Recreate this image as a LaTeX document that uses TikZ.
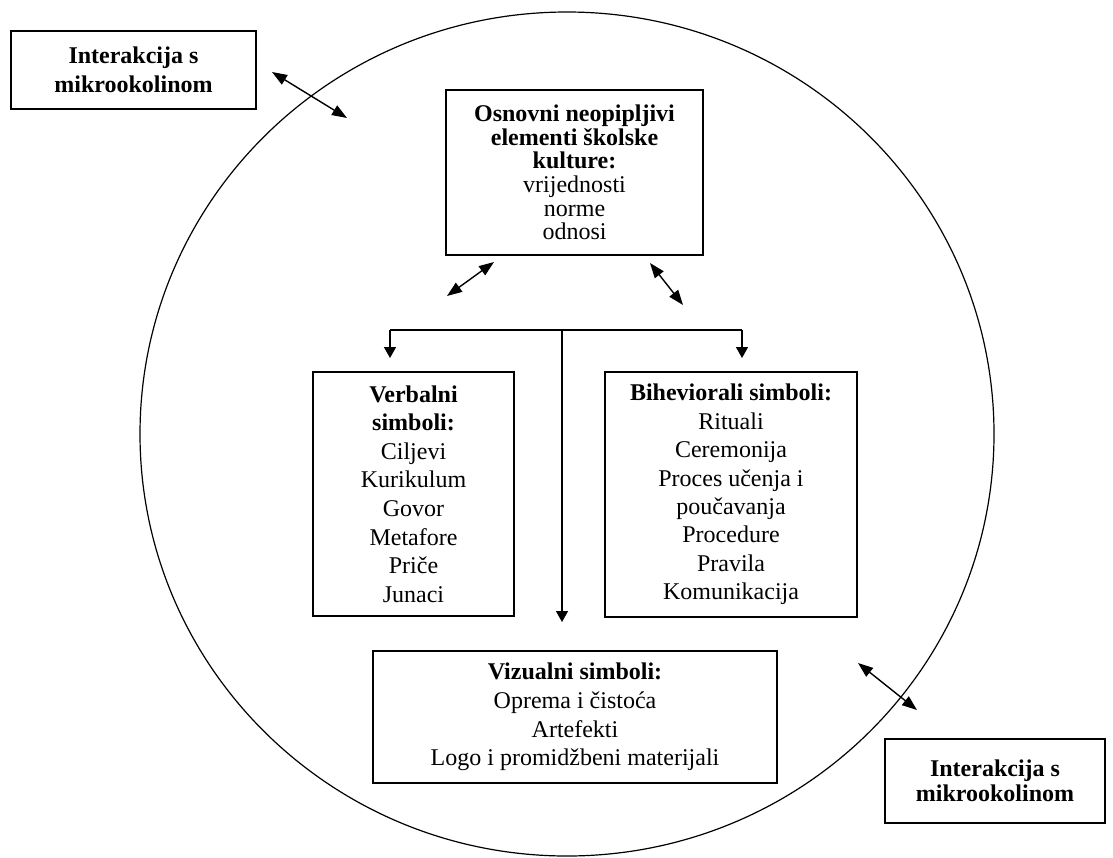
\documentclass[tikz,border=0pt]{standalone}
\usepackage{fontspec}
\setmainfont{Liberation Serif}
\usetikzlibrary{arrows.meta}
\begin{document}
\begin{tikzpicture}[x=0.5pt,y=-0.5pt,
  box/.style={draw, line width=0.75pt, inner sep=0pt, align=center},
  txt/.style={font=\fontsize{12}{#1}\selectfont},
  dbl/.style={{Triangle[length=7.5pt,width=5.5pt]}-{Triangle[length=7.5pt,width=5.5pt]}, line width=0.7pt},
  down/.style={-{Triangle[length=5.5pt,width=6pt]}, line width=0.7pt}]
\useasboundingbox (0,0) rectangle (1113,857);
\draw[line width=0.6pt] (567,434) ellipse [x radius=427, y radius=422];

\node[box, txt=14.5pt, minimum width=122.5pt, minimum height=39pt] (tl) at (133.5,70)
  {\textbf{Interakcija s}\\\textbf{mikrookolinom}};
\node[box, txt=12.5pt, minimum width=110pt, minimum height=42pt] (br) at (995,781)
  {\textbf{Interakcija s}\\\textbf{mikrookolinom}};
\node[box, txt=11.8pt, minimum width=128.5pt, minimum height=82.5pt] (top) at (574.5,172.5)
  {\textbf{Osnovni neopipljivi}\\\textbf{elementi školske}\\\textbf{kulture:}\\vrijednosti\\norme\\odnosi};
\node[box, txt=14.3pt, minimum width=100.5pt, minimum height=122pt] (verb) at (413.5,494)
  {\textbf{Verbalni}\\\textbf{simboli:}\\Ciljevi\\Kurikulum\\Govor\\Metafore\\Priče\\Junaci};
\node[box, txt=14.2pt, minimum width=126pt, minimum height=122.5pt] (beh) at (731,494.5)
  {\textbf{Biheviorali simboli:}\\Rituali\\Ceremonija\\Proces učenja i\\poučavanja\\Procedure\\Pravila\\Komunikacija};
\node[box, txt=14.3pt, minimum width=202pt, minimum height=66pt] (viz) at (575,717)
  {\textbf{Vizualni simboli:}\\Oprema i čistoća\\Artefekti\\Logo i promidžbeni materijali};

% interaction arrows
\coordinate (a1) at (272,72);  \coordinate (a2) at (347,118);
\coordinate (b1) at (447,296); \coordinate (b2) at (494,262);
\coordinate (c1) at (650,263); \coordinate (c2) at (683,305);
\coordinate (d1) at (858,663); \coordinate (d2) at (917,710);
\draw[dbl] (a1) -- (a2);
\draw[dbl] (b1) -- (b2);
\draw[dbl] (c1) -- (c2);
\draw[dbl] (d1) -- (d2);

% tree
\coordinate (j) at (562,330);
\coordinate (jl) at (390,330);
\coordinate (jr) at (742,330);
\coordinate (vt) at (390,358);
\coordinate (bt) at (742,358);
\coordinate (zt) at (562,622);
\draw[line width=0.7pt] (jl) -- (jr);
\draw[down] (jl) -- (vt);
\draw[down] (jr) -- (bt);
\draw[down] (j) -- (zt);
\end{tikzpicture}
\end{document}
